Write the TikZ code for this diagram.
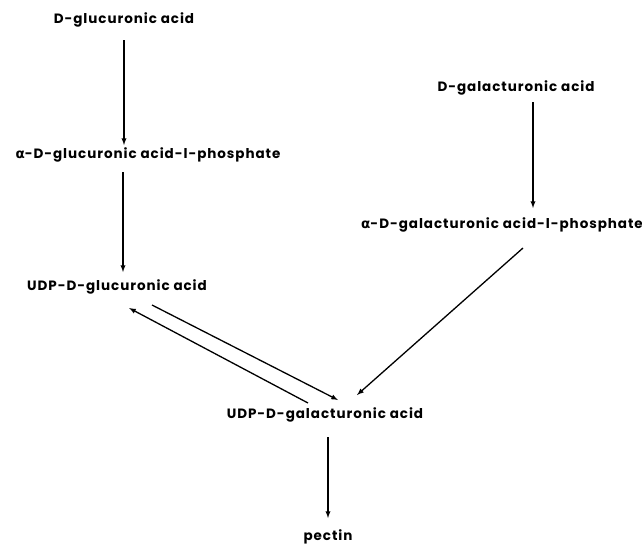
\documentclass[tikz,border=0pt]{standalone}
\usepackage{fontspec}
\setmainfont{Poppins}[LetterSpace=7]
\newfontfamily\greekfont{DejaVu Sans}
\newcommand{\alphaletter}{{\greekfont\bfseries α}}

\begin{document}
\begin{tikzpicture}[x=1pt, y=-1pt,
  every node/.style = {font=\fontsize{13.5}{16}\selectfont\bfseries, inner sep=0pt, align=center},
  conv/.style = {->, >=latex, line width=1.3pt}]
  \useasboundingbox (0,0) rectangle (642,546);
  \node (glc) at (124,20) {D-glucuronic acid};
  \node (glcp) at (148,155) {\alphaletter-D-glucuronic acid-l-phosphate};
  \node (udpglc) at (117,287) {UDP-D-glucuronic acid};
  \node (gal) at (516,88) {D-galacturonic acid};
  \node (galp) at (502,225) {\alphaletter-D-galacturonic acid-l-phosphate};
  \node (udpgal) at (325,415) {UDP-D-galacturonic acid};
  \node (pectin) at (328,537) {pectin};
  % straight steps
  \draw[conv] ([yshift=-20pt]glc.center) -- ([xshift=-24pt,yshift=10pt]glcp.center);
  \draw[conv] ([xshift=-25pt,yshift=-17pt]glcp.center) -- ([xshift=6pt,yshift=15pt]udpglc.center);
  \draw[conv] ([xshift=17pt,yshift=-14pt]gal.center) -- ([xshift=31pt,yshift=17pt]galp.center);
  \draw[conv] ([xshift=21pt,yshift=-23pt]galp.center) -- ([xshift=32pt,yshift=20pt]udpgal.center);
  \draw[conv] ([xshift=3pt,yshift=-22pt]udpgal.center) -- ([yshift=19pt]pectin.center);
  % epimerase, both ways
  \draw[conv] ([xshift=35pt,yshift=-18pt]udpglc.center) -- ([xshift=13pt,yshift=15pt]udpgal.center);
  \draw[conv] ([xshift=-17pt,yshift=12pt]udpgal.center) -- ([xshift=12pt,yshift=-21pt]udpglc.center);
\end{tikzpicture}
\end{document}
